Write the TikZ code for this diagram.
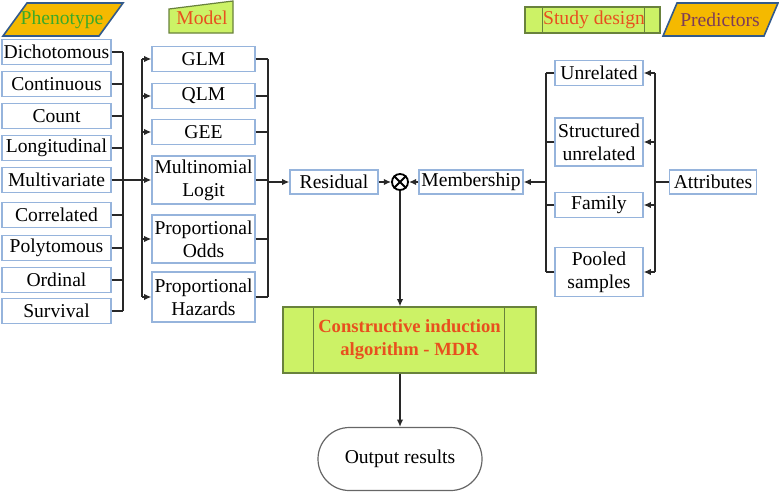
\documentclass[tikz,border=0pt]{standalone}
\usepackage{fontspec}
\setmainfont{Liberation Serif}
\usetikzlibrary{arrows.meta}
\definecolor{boxblue}{RGB}{150,180,220}
\definecolor{lime}{RGB}{204,242,102}
\definecolor{limeline}{RGB}{105,130,60}
\definecolor{gold}{RGB}{245,185,0}
\definecolor{edgeblue}{RGB}{50,90,140}
\definecolor{titlered}{RGB}{232,80,30}
\definecolor{titlegreen}{RGB}{60,170,40}
\definecolor{titleplum}{RGB}{125,60,90}
\definecolor{wirecol}{RGB}{40,40,40}
\begin{document}
\begin{tikzpicture}[x=0.5pt,y=-0.5pt,>={Latex[length=3.6pt,width=3.2pt]},
  every node/.style={font=\rmfamily\fontsize{9.8}{11.5}\selectfont},
  item/.style={draw=boxblue,line width=0.6pt,fill=white,inner sep=0pt,align=center,minimum height=12.5pt},
  pheno/.style={item,minimum width=54.5pt},
  model/.style={item,minimum width=51.5pt},
  design/.style={item,minimum width=44pt},
  wire/.style={draw=wirecol,line width=0.9pt}]
\useasboundingbox (0,0) rectangle (779,493);

% headers
\path[draw=edgeblue,line width=0.8pt,fill=gold] (3,36) -- (27,3) -- (123,3) -- (99,36) -- cycle;
\node[text=titlegreen] (phen) at (62,20) {Phenotype};
\path[draw=limeline,line width=0.6pt,fill=lime] (169,9) -- (233,1) -- (233,33) -- (169,33) -- cycle;
\node[text=titlered] (mod) at (202,18) {Model};
\node[draw=limeline,line width=0.6pt,fill=lime,minimum width=67.5pt,minimum height=13pt,inner sep=0pt] (sd) at (592.5,20) {};
\draw[limeline,line width=0.6pt] ([xshift=9pt]sd.north west) -- ([xshift=9pt]sd.south west);
\draw[limeline,line width=0.6pt] ([xshift=-8pt]sd.north east) -- ([xshift=-8pt]sd.south east);
\node[text=titlered] (sdt) at (594,20) {Study design};
\path[draw=edgeblue,line width=0.8pt,fill=gold] (663,36) -- (677,3) -- (778,3) -- (764,36) -- cycle;
\node[text=titleplum] (pred) at (720,20) {Predictors};

% phenotypes
\node[pheno] (dich) at (56.5,52) {Dichotomous};
\node[pheno] (cont) at (56.5,84) {Continuous};
\node[pheno] (cnt) at (56.5,116) {Count};
\node[pheno] (longi) at (56.5,148) {Longitudinal};
\node[pheno] (multi) at (56.5,180) {Multivariate};
\node[pheno] (corr) at (56.5,215) {Correlated};
\node[pheno] (poly) at (56.5,248) {Polytomous};
\node[pheno] (ord) at (56.5,280) {Ordinal};
\node[pheno] (surv) at (56.5,311) {Survival};

% models
\node[model] (glm) at (203.5,59) {GLM};
\node[model] (qlm) at (203.5,96) {QLM};
\node[model] (gee) at (203.5,132) {GEE};
\node[model,minimum height=24pt] (mlog) at (203.5,180) {Multinomial\\Logit};
\node[model,minimum height=24pt] (podds) at (203.5,239) {Proportional\\Odds};
\node[model,minimum height=25pt] (phaz) at (203.5,297) {Proportional\\Hazards};

% centre
\node[item,minimum width=44pt,minimum height=12pt] (resid) at (334,182) {Residual};
\node[circle,draw=black,line width=0.9pt,minimum size=8pt,inner sep=0pt] (ot) at (400,182) {};
\draw[line width=0.9pt] (ot.45) -- (ot.225) (ot.135) -- (ot.315);
\node[item,minimum width=52pt,minimum height=12pt] (memb) at (471,182) {Membership};

% study designs
\node[design] (unrel) at (599,73) {Unrelated};
\node[design,minimum height=24pt] (struc) at (599,142) {Structured\\unrelated};
\node[design] (fam) at (599,205) {Family};
\node[design,minimum height=24.5pt] (pool) at (599,272) {Pooled\\samples};
\node[item,minimum width=43.5pt,minimum height=12pt] (attr) at (713,182) {Attributes};

% MDR and output
\node[draw=limeline,line width=0.6pt,fill=lime,minimum width=126.5pt,minimum height=33pt,inner sep=0pt,align=center,
  text=titlered,font=\rmfamily\fontsize{9.3}{11.5}\selectfont\bfseries] (mdr) at (409.5,340) {Constructive induction\\algorithm - MDR};
\draw[limeline,line width=0.6pt] ([xshift=15.5pt]mdr.north west) -- ([xshift=15.5pt]mdr.south west);
\draw[limeline,line width=0.6pt] ([xshift=-16pt]mdr.north east) -- ([xshift=-16pt]mdr.south east);
\node[draw=black!60,line width=0.6pt,rounded corners=15.7pt,minimum width=82pt,minimum height=31.5pt] (out) at (400,459) {Output results};

% brackets
\coordinate (lb) at (123,0);
\coordinate (mb) at (142,0);
\coordinate (rb) at (268,0);
\coordinate (sb) at (546,0);
\coordinate (ab) at (655,0);

\foreach \n in {dich,cont,cnt,longi,corr,poly,ord,surv}
  \draw[wire] (\n.east) -- (\n.east -| lb);
\draw[wire] (dich.east -| lb) -- (surv.east -| lb);
\draw[wire,->] (multi.east) -- (mlog.west);

\draw[wire] (glm.west -| mb) -- (phaz.west -| mb);
\foreach \n in {glm,qlm,gee,podds,phaz}
  \draw[wire,->] (\n.west -| mb) -- (\n.west);

\foreach \n in {glm,qlm,gee,mlog,podds,phaz}
  \draw[wire] (\n.east) -- (\n.east -| rb);
\draw[wire] (glm.east -| rb) -- (phaz.east -| rb);
\draw[wire,->] (rb |- resid) -- (resid.west);

\draw[wire,->] (resid) -- (ot);
\draw[wire,->] (memb) -- (ot);

\foreach \n in {unrel,struc,fam,pool}
  \draw[wire] (\n.west) -- (\n.west -| sb);
\draw[wire] (unrel.west -| sb) -- (pool.west -| sb);
\draw[wire,->] (sb |- memb) -- (memb.east);

\draw[wire] (unrel.east -| ab) -- (pool.east -| ab);
\foreach \n in {unrel,struc,fam,pool}
  \draw[wire,->] (\n.east -| ab) -- (\n.east);
\draw[wire] (attr.west) -- (attr.west -| ab);

\draw[wire,->] (ot) -- (ot |- mdr.north);
\draw[wire,->] (ot |- mdr.south) -- (out.north);
\end{tikzpicture}
\end{document}
